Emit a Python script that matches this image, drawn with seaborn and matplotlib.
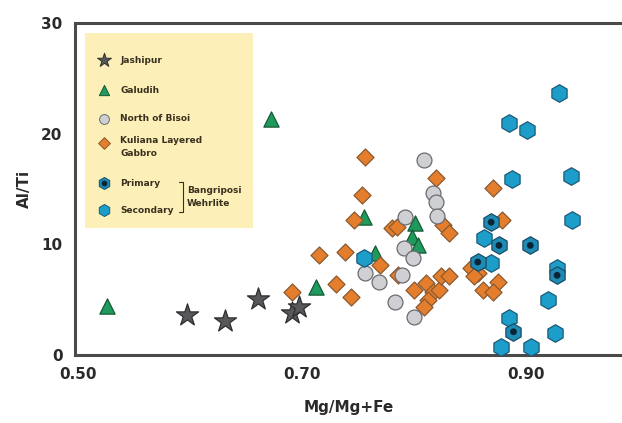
import matplotlib
matplotlib.use('Agg')
from matplotlib import pyplot as plt
from matplotlib.lines import Line2D
from matplotlib.patches import Rectangle
import pandas as pd
import seaborn as sns

# Mg/(Mg+Fe) vs Al/Ti
jashipur_x = [0.597, 0.631, 0.661, 0.691, 0.697]
jashipur_y = [3.6, 3.1, 5.1, 3.8, 4.3]

galudih_x = [0.526, 0.672, 0.712, 0.755, 0.765, 0.801, 0.798, 0.804]
galudih_y = [4.4, 21.3, 6.1, 12.5, 9.2, 11.9, 10.7, 9.9]

bisoi_x = [0.809, 0.817, 0.820, 0.821, 0.792, 0.791, 0.799, 0.756, 0.769, 0.789, 0.783, 0.800]
bisoi_y = [17.6, 14.6, 13.8, 12.6, 12.5, 9.7, 8.8, 7.4, 6.6, 7.2, 4.8, 3.4]

kuliana_x = [0.756, 0.754, 0.746, 0.715, 0.738, 0.730, 0.744, 0.770, 0.780, 0.785,
             0.786, 0.800, 0.811, 0.817, 0.822, 0.813, 0.809, 0.824, 0.831, 0.820,
             0.826, 0.831, 0.871, 0.879, 0.851, 0.857, 0.862, 0.875, 0.871, 0.854, 0.691]
kuliana_y = [17.9, 14.5, 12.2, 9.0, 9.3, 6.4, 5.2, 8.1, 11.5, 11.6,
             7.2, 5.9, 6.5, 5.7, 5.9, 5.0, 4.3, 7.1, 7.1, 16.0,
             11.7, 11.0, 15.1, 12.2, 7.9, 7.4, 5.9, 6.6, 5.7, 7.1, 5.7]

secondary_x = [0.930, 0.885, 0.901, 0.888, 0.940, 0.941, 0.863, 0.869, 0.928, 0.920,
               0.885, 0.926, 0.878, 0.905, 0.755]
secondary_y = [23.7, 21.0, 20.3, 15.9, 16.2, 12.2, 10.6, 8.3, 7.9, 5.0,
               3.3, 2.0, 0.7, 0.7, 8.8]

primary_x = [0.869, 0.876, 0.904, 0.857, 0.928, 0.889]
primary_y = [12.0, 9.9, 9.9, 8.4, 7.2, 2.1]

x_ticks = [0.50, 0.70, 0.90]
x_tick_labels = ['0.50', '0.70', '0.90']
y_ticks = [0, 10, 20, 30]

STYLES = {
    'Jashipur': dict(marker='*', s=280, color='#58585a', edgecolor='#2e2e30'),
    'Galudih': dict(marker='^', s=120, color='#1f9a5c', edgecolor='#145a36'),
    'North of Bisoi': dict(marker='o', s=115, color='#cfd0d4', edgecolor='#6a6a70'),
    'Kuliana': dict(marker='D', s=75, color='#e47e2c', edgecolor='#8a5a32'),
    'Secondary': dict(marker='h', s=160, color='#1d9dc9', edgecolor='#1c5b78'),
    'Primary': dict(marker='h', s=160, color='#1d8bb4', edgecolor='#1c4d66'),
}

groups = {
    'Jashipur': (jashipur_x, jashipur_y),
    'Galudih': (galudih_x, galudih_y),
    'Kuliana': (kuliana_x, kuliana_y),
    'North of Bisoi': (bisoi_x, bisoi_y),
    'Secondary': (secondary_x, secondary_y),
    'Primary': (primary_x, primary_y),
}
df = pd.concat(
    [pd.DataFrame({'mg': x, 'alti': y, 'group': name}) for name, (x, y) in groups.items()],
    ignore_index=True,
)

sns.set_style('white')
plt.rcParams['font.family'] = ['DejaVu Sans']

fig = plt.figure(figsize=(6.22, 4.23), dpi=100)
ax = fig.add_axes([0.1206, 0.1608, 0.8794, 0.7849])

for name in groups:
    st = STYLES[name]
    sns.scatterplot(data=df[df.group == name], x='mg', y='alti', ax=ax, marker=st['marker'],
                    s=st['s'], color=st['color'], edgecolor=st['edgecolor'], linewidth=0.9,
                    legend=False, zorder=3)
# dark core of the primary hexagons
sns.scatterplot(data=df[df.group == 'Primary'], x='mg', y='alti', ax=ax, marker='o', s=24,
                color='#0b2538', edgecolor='none', legend=False, zorder=4)

ax.set_xlim(0.497, 0.986)
ax.set_ylim(0, 30)
ax.set_xticks(x_ticks)
ax.set_xticklabels(x_tick_labels)
ax.set_yticks(y_ticks)
ax.tick_params(length=0, labelsize=11, pad=9)
for lab in ax.get_xticklabels() + ax.get_yticklabels():
    lab.set_fontweight('bold')
    lab.set_color('#2a2a2a')
ax.set_xlabel('Mg/Mg+Fe', fontsize=11, fontweight='bold', color='#2a2a2a')
ax.set_ylabel('Al/Ti', fontsize=11, fontweight='bold', color='#2a2a2a')
ax.xaxis.set_label_coords(0.5, -0.135)
ax.yaxis.set_label_coords(-0.078, 0.5)

for side in ('left', 'top', 'bottom'):
    ax.spines[side].set_linewidth(2.2)
    ax.spines[side].set_color('#4a4a4a')
ax.spines['right'].set_visible(False)

# legend panel, drawn in axes fraction
tr = ax.transAxes
ax.add_patch(Rectangle((0.018, 0.383), 0.307, 0.587, transform=tr, facecolor='#fcf0b8',
                       edgecolor='none', zorder=1))
entries = [
    ('Jashipur', 0.887, 'Jashipur', 110),
    ('Galudih', 0.797, 'Galudih', 55),
    ('North of Bisoi', 0.712, 'North of Bisoi', 50),
    ('Kuliana', 0.637, 'Kuliana Layered\nGabbro', 36),
    ('Primary', 0.517, 'Primary', 75),
    ('Secondary', 0.436, 'Secondary', 75),
]
mx, txx = 0.053, 0.083
for key, yy, text, size in entries:
    st = STYLES[key]
    ax.scatter([mx], [yy], transform=tr, marker=st['marker'], s=size, c=st['color'],
               edgecolors=st['edgecolor'], linewidths=0.7, zorder=5, clip_on=False)
    va = 'top' if '\n' in text else 'center'
    ty = yy + 0.022 if '\n' in text else yy
    ax.text(txx, ty, text, transform=tr, fontsize=6.5, fontweight='bold', color='#3a3020',
            va=va, ha='left', linespacing=1.5, zorder=5)
ax.scatter([mx], [0.517], transform=tr, marker='o', s=10, c='#0b2538', zorder=6)
ax.add_line(Line2D([0.19, 0.197, 0.197, 0.19], [0.522, 0.522, 0.43, 0.43], transform=tr,
                   color='#3a3020', linewidth=0.8, zorder=5))
ax.text(0.205, 0.476, 'Bangriposi\nWehrlite', transform=tr, fontsize=6.5, fontweight='bold',
        color='#3a3020', va='center', ha='left', linespacing=1.5, zorder=5)

fig.savefig('out.png', dpi=100)
